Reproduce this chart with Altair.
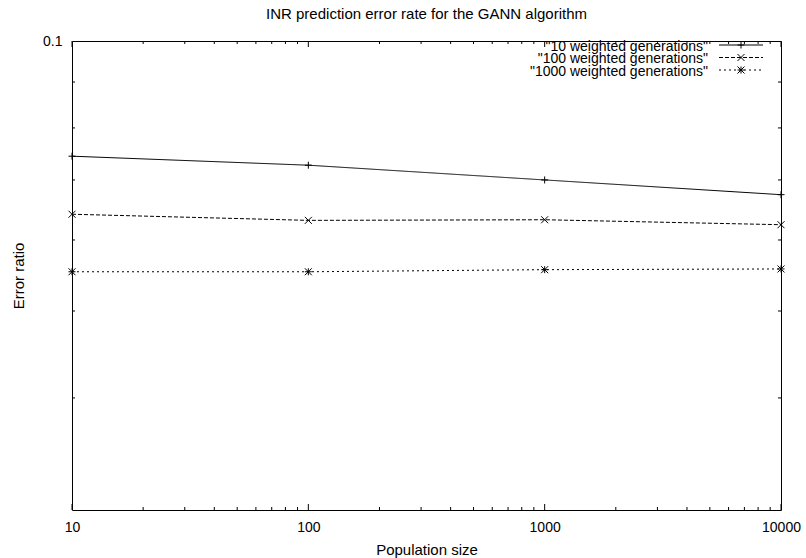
import altair as alt
import pandas as pd

# ---- data ----
population = [10, 100, 1000, 10000]
err_10 = [0.0744, 0.0727, 0.0700, 0.0674]
err_100 = [0.0641, 0.0631, 0.0632, 0.0624]
err_1000 = [0.0553, 0.0553, 0.0556, 0.0557]
series_labels = ['"10 weighted generations"', '"100 weighted generations"', '"1000 weighted generations"']

x_major_ticks = [10, 100, 1000, 10000]
x_minor_ticks = [20, 30, 40, 50, 60, 70, 80, 90,
                 200, 300, 400, 500, 600, 700, 800, 900,
                 2000, 3000, 4000, 5000, 6000, 7000, 8000, 9000]
y_label_ticks = [0.1]
y_minor_ticks = [0.04, 0.05, 0.06, 0.07, 0.08, 0.09]

W, H = 709, 469
FONT = "Liberation Sans"

PLUS = "M-1,0L1,0M0,-1L0,1"
CROSS = "M-1,-1L1,1M-1,1L1,-1"
STAR = "M-1,0L1,0M0,-1L0,1M-1,-1L1,1M-1,1L1,-1"
shapes = [PLUS, CROSS, STAR]
dashes = [[1, 0], [4, 2], [2, 3]]
series_vals = [err_10, err_100, err_1000]

xscale = alt.Scale(type="log", domain=[10, 10000], nice=False, zero=False)
yscale = alt.Scale(type="log", domain=[0.03, 0.1], nice=False, zero=False)

x_axis = alt.Axis(values=x_major_ticks, format="d", tickSize=0, domain=False, grid=False,
                  labelPadding=10, labelFontSize=14, labelFont=FONT, labelColor="black",
                  title="Population size", titleFont=FONT, titleFontSize=15,
                  titleFontWeight="normal", titleColor="black", titlePadding=8, labelFlush=False)
y_axis = alt.Axis(values=y_label_ticks, format=".1f", tickSize=0, domain=False, grid=False,
                  labelPadding=10, labelFontSize=14, labelFont=FONT, labelColor="black",
                  title="Error ratio", titleFont=FONT, titleFontSize=15,
                  titleFontWeight="normal", titleColor="black", titlePadding=16, labelFlush=False)


def xe():
    return alt.X("pop:Q", scale=xscale, axis=x_axis)


def ye():
    return alt.Y("err:Q", scale=yscale, axis=y_axis)


layers = []
for vals, shp, dsh in zip(series_vals, shapes, dashes):
    df = pd.DataFrame({"pop": population, "err": vals})
    base = alt.Chart(df)
    layers.append(base.mark_line(color="black", strokeWidth=1, strokeDash=dsh).encode(x=xe(), y=ye()))
    layers.append(base.mark_point(shape=shp, filled=False, color="black", strokeWidth=1,
                                  size=49, opacity=1).encode(x=xe(), y=ye()))

# ---- gnuplot style inward ticks ----
xmaj = alt.Chart(pd.DataFrame({"pop": x_major_ticks}))
xmin = alt.Chart(pd.DataFrame({"pop": x_minor_ticks}))
ymin = alt.Chart(pd.DataFrame({"err": y_minor_ticks}))
tick_style = dict(color="black", strokeWidth=1)
layers += [
    xmaj.mark_rule(**tick_style).encode(x=xe(), y=alt.value(H), y2=alt.value(H - 6)),
    xmaj.mark_rule(**tick_style).encode(x=xe(), y=alt.value(0), y2=alt.value(6)),
    xmin.mark_rule(**tick_style).encode(x=xe(), y=alt.value(H), y2=alt.value(H - 3)),
    xmin.mark_rule(**tick_style).encode(x=xe(), y=alt.value(0), y2=alt.value(3)),
    ymin.mark_rule(**tick_style).encode(y=ye(), x=alt.value(0), x2=alt.value(3)),
    ymin.mark_rule(**tick_style).encode(y=ye(), x=alt.value(W), x2=alt.value(W - 3)),
]

# ---- gnuplot style key (top right, inside) ----
text_y = [6, 18, 31]
line_y = [4, 16.5, 29]
for lab, shp, dsh, ty, ly in zip(series_labels, shapes, dashes, text_y, line_y):
    ld = alt.Chart(pd.DataFrame({"label": [lab]}))
    layers.append(ld.mark_text(align="right", baseline="middle", font=FONT, fontSize=14,
                               color="black").encode(x=alt.value(636), y=alt.value(ty), text="label:N"))
    layers.append(ld.mark_rule(color="black", strokeWidth=1, strokeDash=dsh).encode(
        x=alt.value(647), x2=alt.value(691), y=alt.value(ly)))
    layers.append(ld.mark_point(shape=shp, filled=False, color="black", strokeWidth=1, size=49,
                                opacity=1).encode(x=alt.value(669), y=alt.value(ly)))

chart = alt.layer(*layers).properties(
    width=W, height=H,
    title=alt.TitleParams("INR prediction error rate for the GANN algorithm", font=FONT,
                          fontSize=15, fontWeight="normal", color="black", anchor="middle", offset=12),
    autosize="none",
    padding={"left": 72, "top": 41, "right": 25, "bottom": 48},
    background="white",
).configure_view(stroke="black", strokeWidth=1)

chart.save("out.html", embed_options={"renderer": "svg", "actions": False})
